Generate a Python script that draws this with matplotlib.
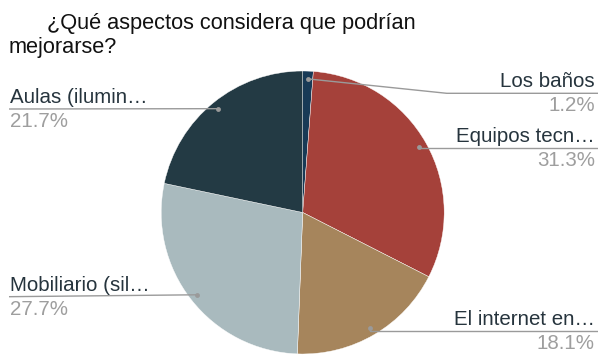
import matplotlib
matplotlib.use("Agg")
import matplotlib.pyplot as plt
import numpy as np

# Survey answers: "¿Qué aspectos considera que podrían mejorarse?"
categories = ["Los baños", "Equipos tecn…", "El internet en…", "Mobiliario (sil…", "Aulas (ilumin…"]
shares = [1.2, 31.3, 18.1, 27.7, 21.7]
slice_colors = ["#183a56", "#a5413a", "#a6855c", "#a9babe", "#233a44"]

# Vertical placement (pixels from top) of each label's leader line
leader_rows = [93.3, 147.7, 330.7, 296.7, 109.0]

W, H = 598, 355
plt.rcParams["font.family"] = ["Liberation Sans", "DejaVu Sans"]

fig = plt.figure(figsize=(W / 100, H / 100), dpi=100)
ax = fig.add_axes([0, 0, 1, 1])

cx, cy, r = 302.7, H - 212.5, 141.5
wedges, _ = ax.pie(
    shares,
    colors=slice_colors,
    startangle=90,
    counterclock=False,
    center=(cx, cy),
    radius=r,
    wedgeprops=dict(linewidth=0.3, edgecolor="white"),
)
ax.set_xlim(0, W)
ax.set_ylim(0, H)
ax.set_aspect("equal")
ax.axis("off")

line_col = "#9a9a9a"
label_col = "#26343d"
pct_col = "#9e9e9e"
fs = 14.8

for w, name, val, row in zip(wedges, categories, shares, leader_rows):
    mid = np.deg2rad((w.theta1 + w.theta2) / 2)
    dx, dy = cx + 0.945 * r * np.cos(mid), cy + 0.945 * r * np.sin(mid)
    ly = H - row
    if np.cos(mid) >= 0:
        elbow = max(dx, 446.7) if abs(ly - dy) > 3 else dx
        ax.plot([dx, elbow, W], [dy, ly, ly], color=line_col, lw=1.0,
                solid_capstyle="butt")
        tx, ha = 595, "right"
    else:
        ax.plot([dx, 9], [dy, ly], color=line_col, lw=1.0, solid_capstyle="butt")
        tx, ha = 10, "left"
    ax.plot([dx], [dy], "o", color=line_col, markersize=3.5, markeredgewidth=0)
    ax.text(tx, ly + 6, name, ha=ha, va="baseline", fontsize=fs, color=label_col)
    ax.text(tx, ly - 18, f"{val:.1f}%", ha=ha, va="baseline", fontsize=fs, color=pct_col)

ax.text(47, H - 29.5, "¿Qué aspectos considera que podrían", ha="left", va="baseline",
        fontsize=15.7, color="#111111")
ax.text(8.3, H - 53.5, "mejorarse?", ha="left", va="baseline",
        fontsize=15.7, color="#111111")

fig.savefig("out.png", dpi=100)
